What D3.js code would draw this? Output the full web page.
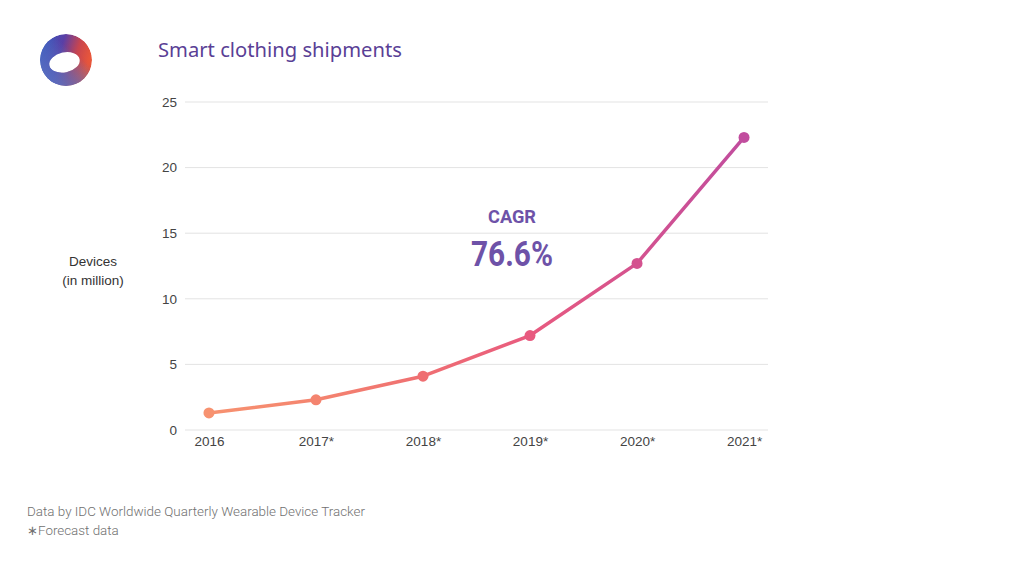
<!DOCTYPE html>
<html><head><meta charset="utf-8">
<script src="https://cdn.jsdelivr.net/npm/d3@7"></script>
<style>body{margin:0;background:#fff}svg{display:block}</style>
</head><body>
<svg id="c" width="1024" height="576"></svg>
<script>
const years = ["2016","2017*","2018*","2019*","2020*","2021*"];
const shipments = [1.3, 2.3, 4.1, 7.2, 12.7, 22.3];
const yTicks = [0,5,10,15,20,25];
const pointColors = ["#f79270","#f4846f","#ef6f72","#e85a7f","#d4528f","#c14d9e"];

const svg = d3.select("#c");
const defs = svg.append("defs");

const x = d3.scalePoint().domain(years).range([185,768]).padding(0.224);
const y = d3.scaleLinear().domain([0,25]).range([430,102]);

// gridlines
svg.append("g").selectAll("line").data(yTicks).join("line")
  .attr("x1",185).attr("x2",768).attr("y1",d=>y(d)).attr("y2",d=>y(d))
  .attr("stroke","#e3e3e3").attr("stroke-width",1);

// y axis labels
const yAxis = svg.append("g").attr("transform","translate(177,0)")
  .call(d3.axisLeft(y).tickValues(yTicks).tickSize(0).tickPadding(0));
yAxis.select(".domain").remove();
yAxis.selectAll("text").attr("font-family","Liberation Sans, Arial, sans-serif").attr("font-size",13.5).attr("fill","#444");

// x axis labels
const xAxis = svg.append("g").attr("transform","translate(0,436)")
  .call(d3.axisBottom(x).tickSize(0).tickPadding(0));
xAxis.select(".domain").remove();
xAxis.selectAll("text").attr("font-family","Liberation Sans, Arial, sans-serif").attr("font-size",13.5).attr("fill","#444").attr("dy","0.71em");

// line gradient
const lg = defs.append("linearGradient").attr("id","lg").attr("gradientUnits","userSpaceOnUse")
  .attr("x1",x(years[0])).attr("x2",x(years[5])).attr("y1",0).attr("y2",0);
pointColors.forEach((c,i)=>lg.append("stop").attr("offset",i/5).attr("stop-color",c));

const data = years.map((yr,i)=>({yr, v:shipments[i], c:pointColors[i]}));
svg.append("path").datum(data)
  .attr("d", d3.line().x(d=>x(d.yr)).y(d=>y(d.v)))
  .attr("fill","none").attr("stroke","url(#lg)").attr("stroke-width",3.5).attr("stroke-linejoin","round");
svg.append("g").selectAll("circle").data(data).join("circle")
  .attr("cx",d=>x(d.yr)).attr("cy",d=>y(d.v)).attr("r",5.5).attr("fill",d=>d.c);

// y title
svg.append("text").attr("x",93).attr("y",266).attr("text-anchor","middle")
  .attr("font-family","Liberation Sans, Arial, sans-serif").attr("font-size",13.5).attr("fill","#333").text("Devices");
svg.append("text").attr("x",93).attr("y",285).attr("text-anchor","middle")
  .attr("font-family","Liberation Sans, Arial, sans-serif").attr("font-size",13.5).attr("fill","#333").text("(in million)");

// CAGR annotation
svg.append("text").attr("x",512).attr("y",223).attr("text-anchor","middle")
  .attr("font-family","Roboto, sans-serif").attr("font-weight",700).attr("font-size",19)
  .attr("fill","#6e52a8").attr("textLength",48).attr("lengthAdjust","spacingAndGlyphs").text("CAGR");
svg.append("text").attr("x",512).attr("y",266).attr("text-anchor","middle")
  .attr("font-family","Roboto, sans-serif").attr("font-weight",700).attr("font-size",35)
  .attr("fill","#6e52a8").attr("textLength",82).attr("lengthAdjust","spacingAndGlyphs").text("76.6%");

// title
svg.append("text").attr("x",158).attr("y",57)
  .attr("font-family","Noto Sans, sans-serif").attr("font-size",20.2).attr("fill","#5a3f96").text("Smart clothing shipments");

// footer
svg.append("text").attr("x",27).attr("y",516)
  .attr("font-family","Roboto, sans-serif").attr("font-weight",300).attr("font-size",13.4).attr("fill","#707070")
  .attr("textLength",338).attr("lengthAdjust","spacingAndGlyphs")
  .text("Data by IDC Worldwide Quarterly Wearable Device Tracker");
svg.append("text").attr("x",27).attr("y",535)
  .attr("font-family","Roboto, sans-serif").attr("font-weight",300).attr("font-size",13.4).attr("fill","#707070")
  .text("∗Forecast data");

// logo
const g1 = defs.append("linearGradient").attr("id","lg1").attr("x1","0").attr("y1","0").attr("x2","1").attr("y2","0.3");
g1.append("stop").attr("offset",0).attr("stop-color","#2f5fc4");
g1.append("stop").attr("offset",0.45).attr("stop-color","#5a3fa6");
g1.append("stop").attr("offset",0.75).attr("stop-color","#c8454f");
g1.append("stop").attr("offset",1).attr("stop-color","#e8563a");
const g2 = defs.append("linearGradient").attr("id","lg2").attr("x1","0").attr("y1","1").attr("x2","0.6").attr("y2","0.3");
g2.append("stop").attr("offset",0).attr("stop-color","#38b6e8").attr("stop-opacity",1);
g2.append("stop").attr("offset",0.5).attr("stop-color","#3a8fd8").attr("stop-opacity",0.6);
g2.append("stop").attr("offset",1).attr("stop-color","#3a8fd8").attr("stop-opacity",0);
const g3 = defs.append("linearGradient").attr("id","lg3").attr("x1","0.3").attr("y1","1").attr("x2","0.8").attr("y2","0.4");
g3.append("stop").attr("offset",0).attr("stop-color","#7a3aa0").attr("stop-opacity",0.9);
g3.append("stop").attr("offset",1).attr("stop-color","#7a3aa0").attr("stop-opacity",0);
const logo = svg.append("g").attr("transform","translate(66,60)");
const mask = defs.append("mask").attr("id","ring");
mask.append("circle").attr("r",26).attr("fill","#fff");
mask.append("ellipse").attr("cx",-2).attr("cy",2).attr("rx",15.5).attr("ry",10).attr("transform","rotate(-12)").attr("fill","#000");
logo.append("circle").attr("r",26).attr("fill","url(#lg1)").attr("mask","url(#ring)");
logo.append("circle").attr("r",26).attr("fill","url(#lg2)").attr("mask","url(#ring)");
logo.append("circle").attr("r",26).attr("fill","url(#lg3)").attr("mask","url(#ring)").attr("opacity",0.5);
</script>
</body></html>
